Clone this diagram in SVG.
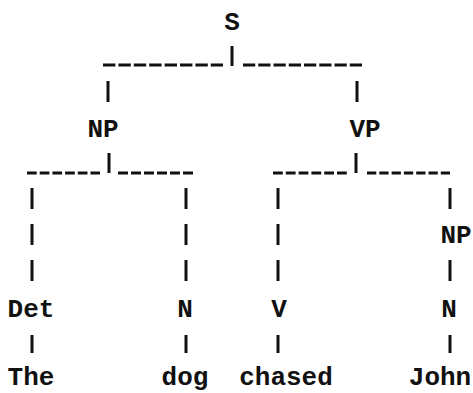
<svg xmlns="http://www.w3.org/2000/svg" width="473" height="393" viewBox="0 0 473 393">
<style>
text{font-family:"Liberation Mono","DejaVu Sans Mono",monospace;font-weight:bold;font-size:26px;fill:#111;text-anchor:middle}
.bar{stroke:#111;stroke-width:3;fill:none}
.dash{stroke:#111;stroke-width:3;fill:none}
</style>
<rect width="473" height="393" fill="#fff"/>
<g id="connectors">
  <line class="bar" x1="232" y1="46" x2="232" y2="66"/>
  <line class="dash" x1="103" y1="65" x2="223" y2="65" stroke-dasharray="12.4 3"/>
  <line class="dash" x1="243" y1="65" x2="362" y2="65" stroke-dasharray="12.25 3"/>
  <line class="bar" x1="108" y1="81" x2="108" y2="102"/>
  <line class="bar" x1="357" y1="81" x2="357" y2="102"/>
  <line class="bar" x1="109" y1="153" x2="109" y2="173"/>
  <line class="dash" x1="27" y1="173" x2="100" y2="173" stroke-dasharray="9.7 3"/>
  <line class="dash" x1="118" y1="173" x2="193" y2="173" stroke-dasharray="10 3"/>
  <line class="bar" x1="356" y1="153" x2="356" y2="173"/>
  <line class="dash" x1="273" y1="173" x2="347" y2="173" stroke-dasharray="9.8 3"/>
  <line class="dash" x1="367" y1="173" x2="450" y2="173" stroke-dasharray="9.3 3"/>
  <line class="bar" x1="32" y1="188" x2="32" y2="209"/>
  <line class="bar" x1="32" y1="224" x2="32" y2="245"/>
  <line class="bar" x1="32" y1="260" x2="32" y2="281"/>
  <line class="bar" x1="186" y1="188" x2="186" y2="209"/>
  <line class="bar" x1="186" y1="224" x2="186" y2="245"/>
  <line class="bar" x1="186" y1="260" x2="186" y2="281"/>
  <line class="bar" x1="278" y1="188" x2="278" y2="209"/>
  <line class="bar" x1="278" y1="224" x2="278" y2="245"/>
  <line class="bar" x1="278" y1="260" x2="278" y2="281"/>
  <line class="bar" x1="450" y1="188" x2="450" y2="209"/>
  <line class="bar" x1="450" y1="260" x2="450" y2="281"/>
  <line class="bar" x1="32" y1="335" x2="32" y2="353"/>
  <line class="bar" x1="186" y1="335" x2="186" y2="353"/>
  <line class="bar" x1="278" y1="335" x2="278" y2="353"/>
  <line class="bar" x1="450" y1="335" x2="450" y2="353"/>
</g>
<g id="node-S"><text x="232" y="30">S</text></g>
<g id="node-NP1"><text x="103" y="137">NP</text></g>
<g id="node-VP"><text x="365" y="137">VP</text></g>
<g id="node-NP2"><text x="456" y="243">NP</text></g>
<g id="node-Det"><text x="31" y="317">Det</text></g>
<g id="node-N1"><text x="185" y="317">N</text></g>
<g id="node-V"><text x="279" y="317">V</text></g>
<g id="node-N2"><text x="449" y="317">N</text></g>
<g id="node-The"><text x="31" y="385">The</text></g>
<g id="node-dog"><text x="185" y="385">dog</text></g>
<g id="node-chased"><text x="286" y="385">chased</text></g>
<g id="node-John"><text x="440" y="385">John</text></g>
</svg>
